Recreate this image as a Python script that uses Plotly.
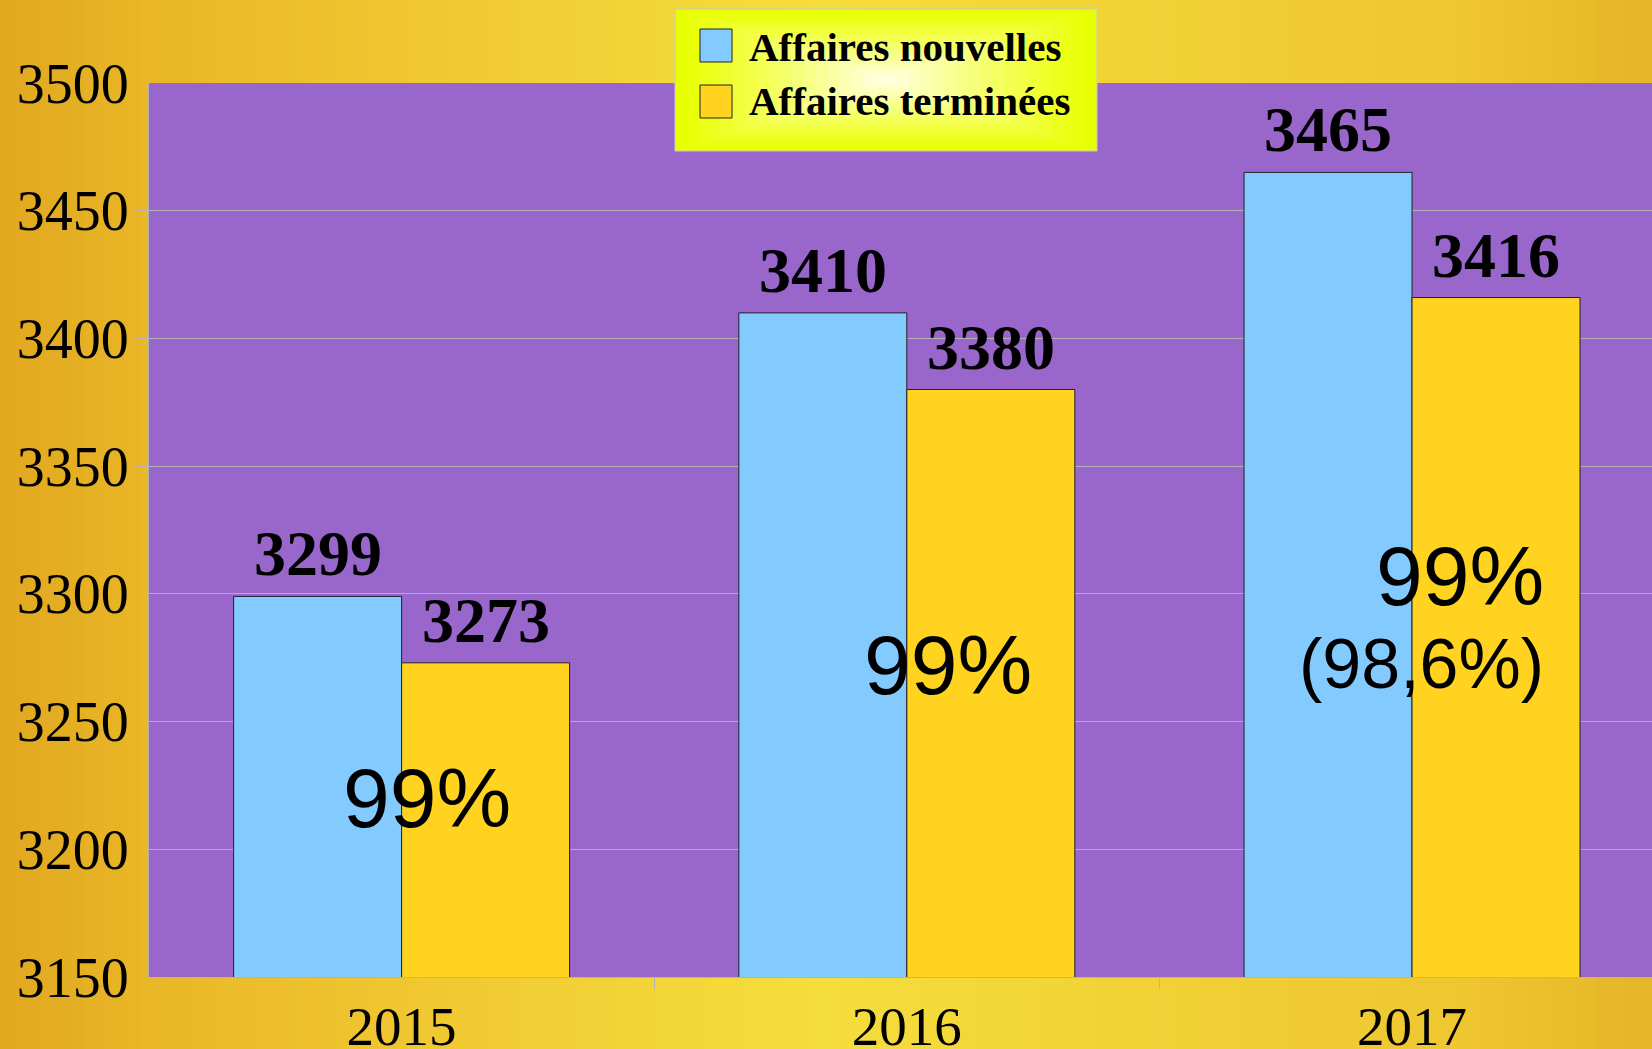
import plotly.graph_objects as go

# data
years = ["2015", "2016", "2017"]
series_names = ["Affaires nouvelles", "Affaires terminées"]
nouvelles = [3299, 3410, 3465]
terminees = [3273, 3380, 3416]
ratio_labels = ["99%", "99%", "99%"]
ratio_detail = ["", "", "(98,6%)"]
y_ticks = [3150, 3200, 3250, 3300, 3350, 3400, 3450, 3500]

BLUE = "#83CAFF"
YELLOW = "#FFD320"
PURPLE = "#9966CC"
GRID = "#B3B3B3"

W, H = 1652, 1049
ML, MR, MT, MB = 149, 0, 83, 72
PW, PH = W - ML - MR, H - MT - MB
BARGAP = 0.335


def px_x(px):
    return (px - ML) / PW


def px_y(py):
    return (H - MB - py) / PH


def lerp_color(stops, px):
    for (x0, c0), (x1, c1) in zip(stops, stops[1:]):
        if x0 <= px <= x1:
            t = (px - x0) / (x1 - x0)
            r, g, b = (round(a + (b_ - a) * t) for a, b_ in zip(c0, c1))
            return f"rgb({r},{g},{b})"
    return f"rgb{stops[-1][1]}"


fig = go.Figure()

annotations = []
half = (1 - BARGAP) / 4  # centre offset of each bar inside its group
label_font = dict(family="Liberation Serif", size=64, color="black", weight="bold")
for k, (name, values, color) in enumerate([(series_names[0], nouvelles, BLUE),
                                           (series_names[1], terminees, YELLOW)]):
    fig.add_trace(go.Bar(
        x=years, y=values, name=name,
        marker=dict(color=color, line=dict(color="#222222", width=1)),
    ))
    shift = -half if k == 0 else half
    for j, v in enumerate(values):
        annotations.append(dict(
            text=str(v), x=j + shift, y=v, xref="x", yref="y",
            xanchor="center", yanchor="bottom", yshift=5, showarrow=False,
            font=label_font,
        ))

shapes = []

# golden paper background, drawn as thin vertical stripes
bg_stops = [
    (0, (225, 167, 32)), (150, (233, 183, 40)), (400, (240, 198, 48)),
    (660, (243, 214, 56)), (830, (245, 221, 60)), (1000, (243, 215, 56)),
    (1300, (240, 204, 50)), (1450, (239, 199, 49)), (1652, (229, 181, 40)),
]
step = 14
for px in range(0, W, step):
    shapes.append(dict(
        type="rect", xref="paper", yref="paper", layer="below",
        x0=px_x(px), x1=px_x(px + step + 1), y0=px_y(H + 2), y1=px_y(-2),
        fillcolor=lerp_color(bg_stops, px + step / 2), line=dict(width=0),
    ))

# plot area
shapes.append(dict(
    type="rect", xref="paper", yref="paper", layer="below",
    x0=0, x1=1, y0=0, y1=1, fillcolor=PURPLE, line=dict(width=0),
))

# legend box with a rectangular yellow-to-white gradient
lx0, lx1, ly0, ly1 = 675, 1097, 9, 151
cx, cy = (lx0 + lx1) / 2, (ly0 + ly1) / 2
n_rings = 18
for i in range(n_rings):
    t = i / n_rings
    hw = (lx1 - lx0) / 2 * (1 - t)
    hh = (ly1 - ly0) / 2 * (1 - t)
    r = round(232 + (255 - 232) * t ** 0.8)
    b = round(235 * t ** 1.1)
    shapes.append(dict(
        type="rect", xref="paper", yref="paper", layer="above",
        x0=px_x(cx - hw), x1=px_x(cx + hw), y0=px_y(cy + hh), y1=px_y(cy - hh),
        fillcolor=f"rgb({r},255,{b})", line=dict(width=0),
    ))
shapes.append(dict(
    type="rect", xref="paper", yref="paper", layer="above",
    x0=px_x(lx0), x1=px_x(lx1), y0=px_y(ly1), y1=px_y(ly0),
    line=dict(color="#C8C8C8", width=1),
))

legend_rows = [(29, 62, 47), (85, 118, 101)]
for name, color, (sy0, sy1, ty) in zip(series_names, [BLUE, YELLOW], legend_rows):
    shapes.append(dict(
        type="rect", xref="paper", yref="paper", layer="above",
        x0=px_x(700), x1=px_x(732), y0=px_y(sy1), y1=px_y(sy0),
        fillcolor=color, line=dict(color="#222222", width=1),
    ))
    annotations.append(dict(
        text=name, xref="paper", yref="paper", x=px_x(747), y=px_y(ty),
        xanchor="left", yanchor="middle", showarrow=False,
        font=dict(family="Liberation Serif", size=41, color="black", weight="bold"),
    ))

# ratio labels
pct_font = dict(family="Liberation Sans", size=84, color="black")
annotations.append(dict(text=ratio_labels[0], x=0.05, y=3220, xref="x", yref="y",
                        showarrow=False, font=pct_font, xanchor="center", yanchor="middle"))
annotations.append(dict(text=ratio_labels[1], x=1.081, y=3272, xref="x", yref="y",
                        showarrow=False, font=pct_font, xanchor="center", yanchor="middle"))
annotations.append(dict(text=ratio_labels[2], x=2.266, y=3307, xref="x", yref="y",
                        showarrow=False, font=pct_font, xanchor="right", yanchor="middle"))
annotations.append(dict(text=ratio_detail[2], x=2.266, y=3272.5, xref="x", yref="y",
                        showarrow=False, font=dict(family="Liberation Sans", size=70, color="black"),
                        xanchor="right", yanchor="middle"))

fig.update_layout(
    width=W, height=H,
    margin=dict(l=ML, r=MR, t=MT, b=MB, pad=0),
    paper_bgcolor="#EEC532",
    plot_bgcolor="rgba(0,0,0,0)",
    barmode="group", bargap=BARGAP, bargroupgap=0,
    showlegend=False,
    shapes=shapes,
    annotations=annotations,
    font=dict(family="Liberation Serif", color="black"),
)

fig.update_xaxes(
    type="category", range=[-0.5, 2.475], automargin=False,
    tickson="boundaries", ticks="outside", ticklen=11, tickcolor=GRID,
    ticklabelstandoff=1,
    showgrid=False, showline=True, linecolor=GRID, linewidth=1,
    tickfont=dict(family="Liberation Serif", size=55, color="black"),
    zeroline=False,
)
fig.update_yaxes(
    range=[3150, 3500], tickvals=y_ticks, automargin=False,
    ticks="outside", ticklen=12, tickcolor=GRID,
    ticklabelstandoff=-4,
    showgrid=True, gridcolor=GRID, gridwidth=1,
    showline=True, linecolor=GRID, linewidth=1,
    tickfont=dict(family="Liberation Serif", size=56, color="black"),
    zeroline=False,
)

fig.write_html("out.html", config={"displayModeBar": False},
               post_script="document.body.style.margin = '0';")
